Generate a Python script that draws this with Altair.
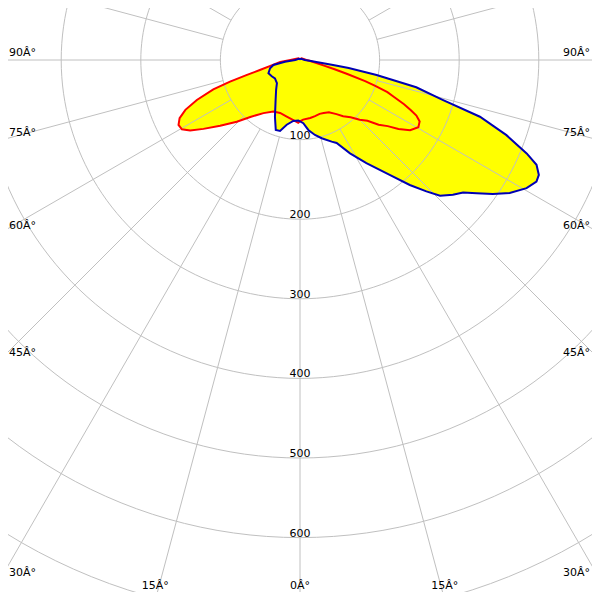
import altair as alt
import pandas as pd
import numpy as np

# ---- photometric curves: gamma angle (deg, 0 = nadir, + = right side) and intensity (cd)
red_angle = [-180, -135, -90, -84, -78.7, -76, -74.3, -72.8, -71.3, -68.8, -66.5, -64.2,
             -61.9, -59.6, -57.3, -54.5, -50.5, -45.7, -41.1, -34.5, -27.3, -20.6, -13.2,
             -6.3, -1.6, 0, 3, 10, 15, 20, 24, 29, 34, 37.5, 41.5, 45, 48, 50.5, 53, 55,
             57.5, 60.4, 62.8, 64.5, 65.6, 67, 68.5, 69.8, 71, 72, 73.5, 75, 77, 80, 85,
             90, 135, 180]
red_cd = [1, 3, 12, 25, 38, 52, 70, 92, 115, 139, 157, 168,
          173, 172, 164, 149, 130, 111, 95, 81, 73, 71, 73,
          76, 79, 77, 75, 74, 73, 72, 73, 75, 82, 89, 96, 106, 114, 128, 138, 151,
          164, 171, 169, 162, 153, 142, 127, 117, 100, 86, 62, 45, 30, 20, 12,
          8, 3, 1]

blue_angle = [-180, -135, -90, -83.5, -79.4, -74.5, -67.2, -60, -53.8, -45, -38.7, -31.3,
              -23.8, -19.1, -15.7, -11.6, -6.3, -1.6, 3, 6.8, 11.3, 15.5, 21.2, 23.8, 28.2,
              32.8, 38, 41.3, 43.9, 45.9, 48.6, 50.9, 53, 55.2, 57.6, 60.5, 62.8, 64.3,
              66.1, 67.6, 70, 72.5, 74.4, 76.8, 78.9, 80.6, 81.4, 83.5, 86, 90, 135, 180]
blue_cd = [1, 2, 6, 19, 34, 39, 43, 41, 39, 41, 48, 59,
           78, 93, 92.6, 83, 77, 76, 79.5, 88.5, 96, 102, 110, 114, 133,
           154, 183, 209, 229, 245, 256, 264, 278, 295, 312, 327, 334, 333,
           325, 308, 276, 237, 186, 150, 98, 62, 42, 19, 12, 6, 2, 1]

# ---- grid
circle_values = [100, 200, 300, 400, 500, 600, 700]
circle_labels = ["100", "200", "300", "400", "500", "600"]
spoke_angles = list(range(0, 360, 15))
side_angles = [90, 75, 60, 45, 30]
side_labels = ["90Â°", "75Â°", "60Â°", "45Â°", "30Â°"]
bottom_angles = [-15, 0, 15]
bottom_labels = ["15Â°", "0Â°", "15Â°"]

# ---- layout (chart pixels; the page adds an 8px margin)
W = H = 584
CX, CY = 292, 52          # pole position in chart pixels
K = 0.796                 # pixels per cd
xdom = [-CX / K, (W - CX) / K]
ydom = [-(H - CY) / K, CY / K]
LEFT_EDGE = 300 / K       # distance (cd) from pole to picture's left edge
BOTTOM_EDGE = 540 / K     # distance (cd) from pole to picture's bottom edge

xs = alt.Scale(domain=xdom, nice=False, zero=False)
ys = alt.Scale(domain=ydom, nice=False, zero=False)
X = lambda f: alt.X(f, type="quantitative", scale=xs, axis=None)
Y = lambda f: alt.Y(f, type="quantitative", scale=ys, axis=None)

curves = pd.concat([
    pd.DataFrame({"angle": red_angle, "cd": red_cd, "series": "red", "idx": range(len(red_angle))}),
    pd.DataFrame({"angle": blue_angle, "cd": blue_cd, "series": "blue", "idx": range(len(blue_angle))}),
], ignore_index=True)

polar = dict(px="datum.cd * sin(datum.angle * PI / 180)",
             py="-datum.cd * cos(datum.angle * PI / 180)")

base_curves = alt.Chart(curves).transform_calculate(**polar)

fill = base_curves.mark_line(fill="#ffff00", strokeOpacity=0, fillOpacity=1, clip=True).encode(
    x=X("px"), y=Y("py"), detail="series:N", order="idx:Q")

red_line = base_curves.transform_filter("datum.series == 'red'").mark_line(
    color="#ff0000", strokeWidth=2, clip=True).encode(x=X("px"), y=Y("py"), order="idx:Q")
blue_line = base_curves.transform_filter("datum.series == 'blue'").mark_line(
    color="#0000b4", strokeWidth=2, clip=True).encode(x=X("px"), y=Y("py"), order="idx:Q")

circ_rows = []
for r in circle_values:
    for i, t in enumerate(range(0, 361, 2)):
        circ_rows.append({"cd": r, "angle": t, "idx": i})
circles = alt.Chart(pd.DataFrame(circ_rows)).transform_calculate(**polar).mark_line(
    color="#c0c0c0", strokeWidth=1, clip=True).encode(
    x=X("px"), y=Y("py"), detail="cd:N", order="idx:Q")

spokes = alt.Chart(pd.DataFrame({"angle": spoke_angles})).transform_calculate(
    x1="100 * sin(datum.angle * PI / 180)", y1="-100 * cos(datum.angle * PI / 180)",
    x2="1200 * sin(datum.angle * PI / 180)", y2="-1200 * cos(datum.angle * PI / 180)",
).mark_rule(color="#c0c0c0", strokeWidth=1, clip=True).encode(
    x=X("x1"), y=Y("y1"), x2="x2:Q", y2="y2:Q")

font = dict(font="DejaVu Sans", fontSize=11, color="black")

ring_text = alt.Chart(pd.DataFrame({"lab": circle_labels,
                                    "r": circle_values[:len(circle_labels)]})).transform_calculate(
    px="0", py="-datum.r").mark_text(baseline="alphabetic", align="center", dy=-1, **font).encode(
    x=X("px"), y=Y("py"), text="lab:N")

side_df = pd.DataFrame({"a": side_angles, "lab": side_labels})
side_calc = dict(py="-%f * cos(datum.a * PI / 180) / sin(datum.a * PI / 180)" % LEFT_EDGE)
left_text = alt.Chart(side_df).transform_calculate(**side_calc).mark_text(
    align="left", baseline="alphabetic", dy=-4, **font).encode(
    x=alt.value(1), y=Y("py"), text="lab:N")
right_text = alt.Chart(side_df).transform_calculate(**side_calc).mark_text(
    align="right", baseline="alphabetic", dy=-4, **font).encode(
    x=alt.value(582), y=Y("py"), text="lab:N")

bottom_text = alt.Chart(pd.DataFrame({"a": bottom_angles, "lab": bottom_labels})).transform_calculate(
    px="%f * tan(datum.a * PI / 180)" % BOTTOM_EDGE).mark_text(
    align="center", baseline="alphabetic", **font).encode(
    x=X("px"), y=alt.value(H - 3), text="lab:N")

chart = alt.layer(fill, circles, spokes, red_line, blue_line, ring_text,
                  left_text, right_text, bottom_text).properties(
    width=W, height=H, padding=0, autosize=alt.AutoSizeParams(type="none"),
    background="white",
).configure_view(stroke=None)

chart.save("out.html", embed_options={"renderer": "svg", "actions": False})
